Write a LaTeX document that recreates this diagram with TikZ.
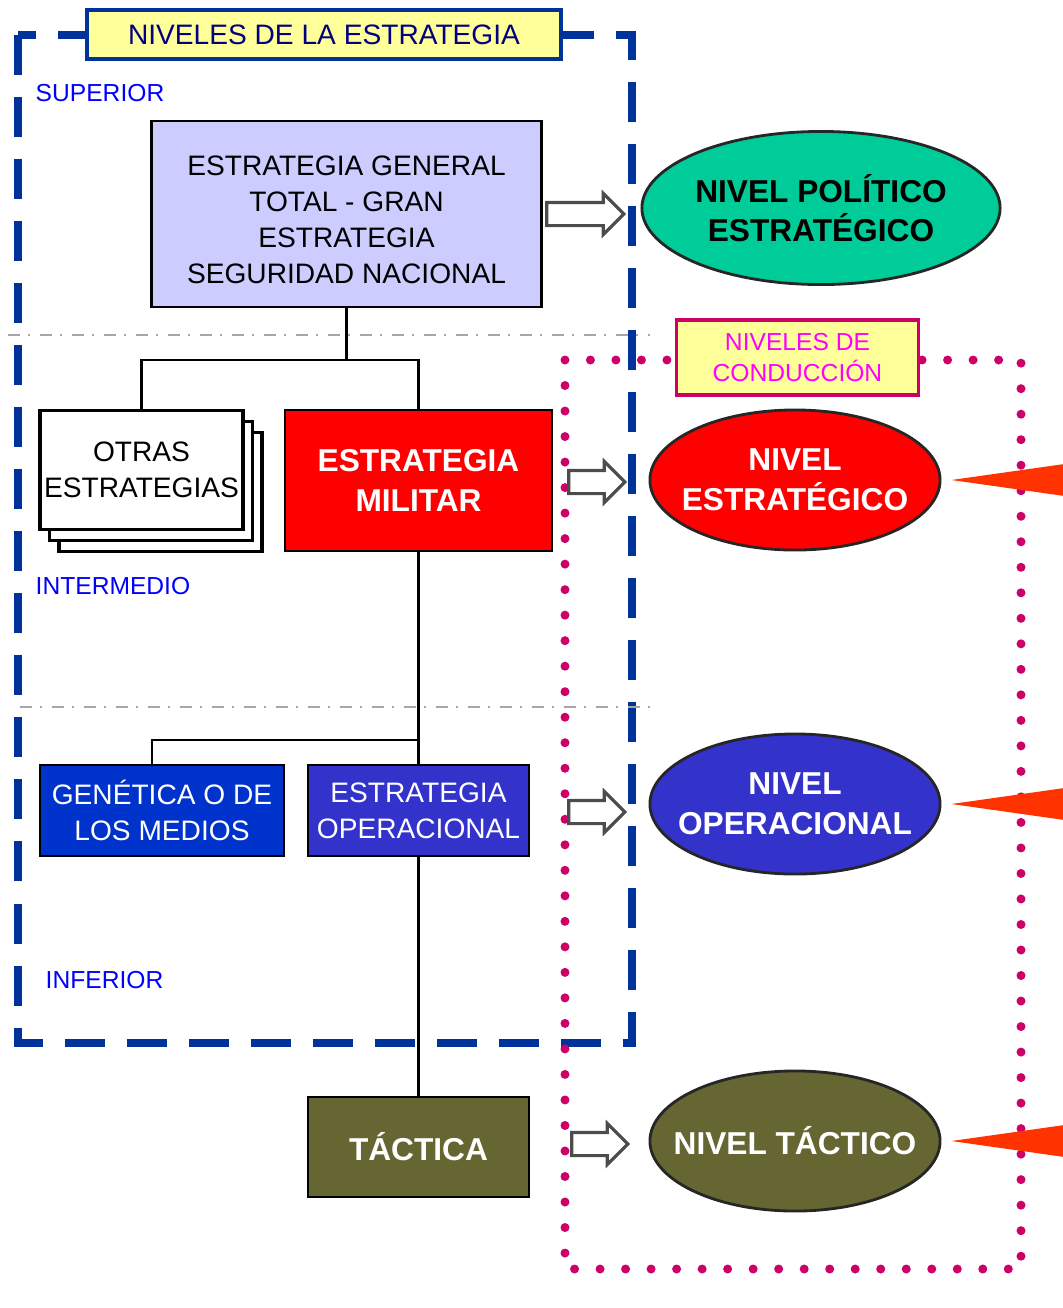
\documentclass[tikz,border=0pt]{standalone}
\usepackage{fontspec}
\setmainfont{Liberation Sans}
\usetikzlibrary{shapes.geometric,shapes.arrows,shadows,calc}
\definecolor{amarillo}{HTML}{FFFF99}
\definecolor{azulmarco}{HTML}{003399}
\definecolor{azulrot}{HTML}{0000FF}
\definecolor{tintatit}{HTML}{000080}
\definecolor{lila}{HTML}{CCCCFF}
\definecolor{verde}{HTML}{00CC99}
\definecolor{rojo}{HTML}{FF0000}
\definecolor{azulgen}{HTML}{0033CC}
\definecolor{azulop}{HTML}{3333CC}
\definecolor{oliva}{HTML}{666633}
\definecolor{rojopunta}{HTML}{FF3300}
\definecolor{rosa}{HTML}{CC0066}
\definecolor{fucsia}{HTML}{FF00FF}
\tikzset{
  caja/.style={draw=black, line width=0.8pt, align=center, inner sep=0pt,
    font=\fontsize{8}{10.2}\selectfont},
  cajafuerte/.style={caja, text=white, font=\fontsize{9}{11.3}\selectfont\bfseries},
  nivel/.style={ellipse, draw=black!85, line width=0.8pt, inner sep=0pt,
    minimum width=2.9cm, minimum height=1.4cm},
  nivtexto/.style={align=center, inner sep=0pt, font=\fontsize{9}{11.3}\selectfont\bfseries},
  rotulo/.style={anchor=west, text=azulrot, inner sep=0pt, font=\fontsize{7}{8.5}\selectfont},
  hueco/.style={single arrow, draw=gray!60!black, fill=white, line width=0.9pt,
    inner sep=0pt, text height=0.2cm, single arrow head extend=0.09cm, minimum height=0.56cm},
  punta/.style={fill=rojopunta},
  corte/.style={gray!70, line width=0.7pt, dash pattern=on 0.12cm off 0.08cm on 0.02cm off 0.1cm}
}
\begin{document}
\begin{tikzpicture}[x=0.01cm, y=-0.01cm]
  \useasboundingbox (0,0) rectangle (1062,1308);
  \draw[azulmarco, line width=0.075cm, dash pattern=on 0.4cm off 0.22cm] (18,35) rectangle (632,1043);
  \draw[corte] (8,335) -- (650,335);
  \draw[corte] (20,707) -- (655,707);
  \node[draw=azulmarco, fill=amarillo, line width=1pt, text=tintatit, inner sep=0pt,
    minimum width=4.74cm, minimum height=0.49cm, font=\fontsize{8}{10}\selectfont] (tit1) at (324,34.5) {NIVELES DE LA ESTRATEGIA};
  \node[rotulo] (sup) at (35,93) {SUPERIOR};
  \node[rotulo] (inter) at (35,586) {INTERMEDIO};
  \node[rotulo] (inf) at (45,980) {INFERIOR};

  \node[caja, fill=lila, minimum width=3.89cm, minimum height=1.86cm] (gral) at (346.5,214) {};
  \node[caja, draw=none, anchor=center] (graltxt) at ([yshift=-0.06cm]gral.center)
    {ESTRATEGIA GENERAL\\TOTAL - GRAN\\ESTRATEGIA\\SEGURIDAD NACIONAL};
  \node[caja, fill=white, line width=1.1pt, double copy shadow={shadow xshift=0.095cm, shadow yshift=-0.11cm},
    minimum width=2.03cm, minimum height=1.19cm] (otras) at (141.5,470) {OTRAS\\ESTRATEGIAS};
  \node[cajafuerte, fill=rojo, minimum width=2.67cm, minimum height=1.41cm] (milit) at (418.5,480.5) {ESTRATEGIA\\MILITAR};
  \node[caja, fill=azulgen, text=white, minimum width=2.44cm, minimum height=0.91cm] (gene) at (162,810.5) {GENÉTICA O DE\\LOS MEDIOS};
  \node[caja, fill=azulop, text=white, minimum width=2.21cm, minimum height=0.91cm] (opera) at (418.5,810.5) {ESTRATEGIA\\OPERACIONAL};
  \node[cajafuerte, fill=oliva, minimum width=2.21cm, minimum height=1cm] (tact) at (418.5,1147) {TÁCTICA};

  \coordinate (j1) at (gral.south |- 0,360);
  \coordinate (j2) at (milit.south |- 0,740);
  \draw[line width=0.8pt] (gral.south) -- (j1) -| (otras.north);
  \draw[line width=0.8pt] (j1) -| (milit.north);
  \draw[line width=0.8pt] (milit.south) -- (opera.north);
  \draw[line width=0.8pt] (j2) -| ([xshift=-0.1cm]gene.north);
  \draw[line width=0.8pt] (opera.south) -- (tact.north);

  \draw[rosa, line width=0.09cm, line cap=round, dash pattern=on 0pt off 0.255cm] (565,360) rectangle (1021,1269);
  \node[draw=rosa, fill=amarillo, line width=1pt, text=fucsia, align=center, inner sep=0pt,
    minimum width=2.42cm, minimum height=0.75cm, font=\fontsize{7}{8.6}\selectfont] (tit2) at (797.5,357.5) {NIVELES DE\\CONDUCCIÓN};

  \node[nivel, fill=verde, minimum width=3.58cm, minimum height=1.53cm,
    label={[nivtexto]center:{NIVEL POLÍTICO\\ESTRATÉGICO}}] (npol) at (821,208) {};
  \node[nivel, fill=rojo, label={[nivtexto, text=white]center:{NIVEL\\ESTRATÉGICO}}] (nest) at (795,480) {};
  \node[nivel, fill=azulop, label={[nivtexto, text=white]center:{NIVEL\\OPERACIONAL}}] (nope) at (795,804) {};
  \node[nivel, fill=oliva, label={[nivtexto, text=white]center:{NIVEL TÁCTICO}}] (ntac) at (795,1141) {};

  \node[hueco, minimum height=0.77cm] (f1) at (579.5,214) {};
  \node[hueco] (f2) at (591,482) {};
  \node[hueco] (f3) at (591,812) {};
  \node[hueco] (f4) at (594,1144) {};

  \fill[punta] ([xshift=0.1cm]nest.east) -- ++(120,-17) -- ++(0,34) -- cycle;
  \fill[punta] ([xshift=0.1cm]nope.east) -- ++(120,-17) -- ++(0,34) -- cycle;
  \fill[punta] ([xshift=0.1cm]ntac.east) -- ++(120,-17) -- ++(0,34) -- cycle;
\end{tikzpicture}
\end{document}
